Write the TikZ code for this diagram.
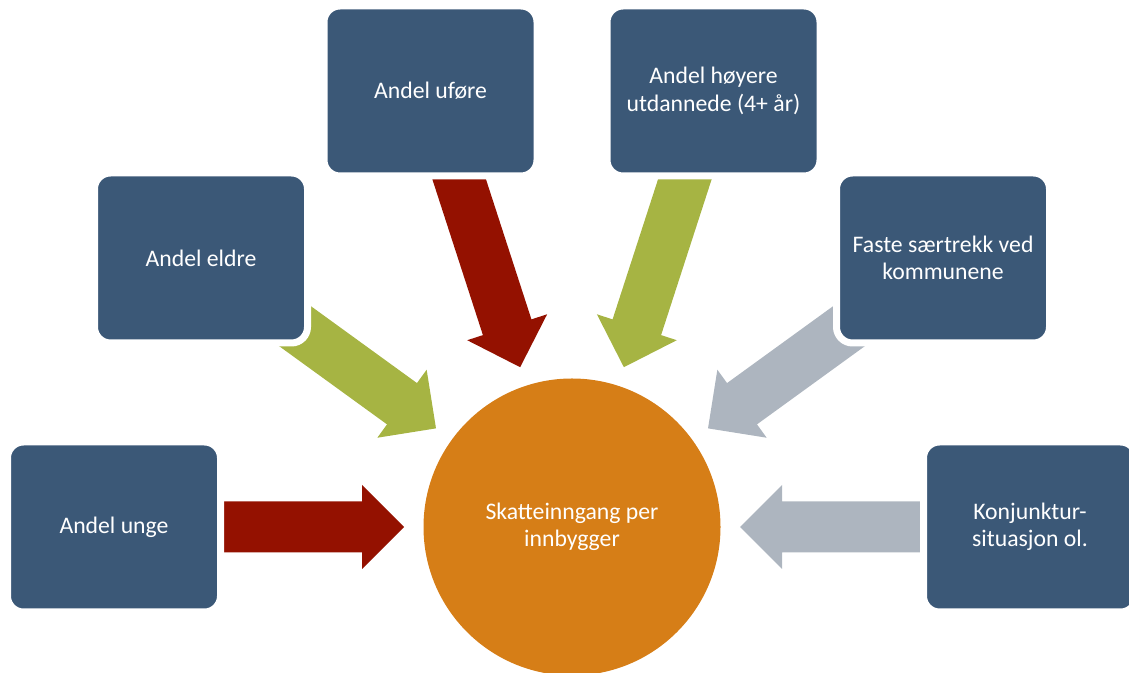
\documentclass[tikz,border=0pt]{standalone}
\usepackage{fontspec}
\setmainfont{Carlito}
\usetikzlibrary{calc,backgrounds}
\definecolor{boksblaa}{HTML}{3B5877}
\definecolor{pilrod}{HTML}{941100}
\definecolor{pilgronn}{HTML}{A6B443}
\definecolor{pilgraa}{HTML}{ADB5BF}
\definecolor{sentrum}{HTML}{D67E17}
\begin{document}
\begin{tikzpicture}[font=\fontsize{13.5}{15.5}\selectfont, line join=round,
		boks/.style={rectangle, rounded corners=.32cm, fill=boksblaa, draw=white, line width=.14cm,
			minimum width=4.26cm, minimum height=3.40cm, text=white, align=center},
		hub/.style={circle, fill=sentrum, minimum size=5.94cm, text=white, align=center}]
		\useasboundingbox (0,0) rectangle (22.58,13.46);
		\node[hub] (skatt) at (11.44,2.92) {Skatteinngang per\\innbygger};
		\node[boks] (unge) at (2.28,2.92) {Andel unge};
		\node[boks] (eldre) at (4.02,8.30) {Andel eldre};
		\node[boks] (ufore) at (8.61,11.64) {Andel uføre};
		\node[boks] (hoyere) at (14.27,11.64) {Andel høyere\\utdannede (4+ år)};
		\node[boks] (faste) at (18.86,8.30) {Faste særtrekk ved\\kommunene};
		\node[boks] (konj) at (20.60,2.92) {Konjunktur-\\situasjon ol.};
		% blokkpiler bak boksene
		\begin{scope}[on background layer]
			\foreach \b/\c in {unge/pilrod, eldre/pilgronn, ufore/pilrod, hoyere/pilgronn, faste/pilgraa, konj/pilgraa}{
				\coordinate (q) at ($(skatt.center)!0.85!(\b.center)$);
				\coordinate (p) at ($(skatt.center)!4.2cm!(\b.center)$);
				\coordinate (t) at ($(skatt.center)!3.36cm!(\b.center)$);
				\fill[\c] ($(q)!.51cm!90:(skatt.center)$)--($(p)!.51cm!90:(skatt.center)$)--($(p)!.84cm!90:(skatt.center)$)--(t)
					--($(p)!.84cm!-90:(skatt.center)$)--($(p)!.51cm!-90:(skatt.center)$)--($(q)!.51cm!-90:(skatt.center)$)--cycle;
			}
		\end{scope}
	\end{tikzpicture}
\end{document}
